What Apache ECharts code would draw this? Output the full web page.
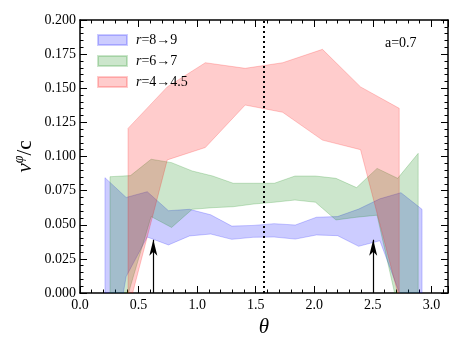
<!DOCTYPE html>
<html>
<head>
<meta charset="utf-8">
<script src="https://cdn.jsdelivr.net/npm/echarts@6/dist/echarts.min.js"></script>
<style>
html, body { margin: 0; padding: 0; background: #fff; }
#chart { width: 463px; height: 347px; }
</style>
</head>
<body>
<div id="chart"></div>
<script>
// r=8->9 band
var theta89 = [0.213, 0.394, 0.574, 0.755, 0.935, 1.116, 1.296, 1.477, 1.657, 1.838, 2.018, 2.199, 2.379, 2.560, 2.740, 2.920];
var upper89 = [0.0845, 0.070, 0.0742, 0.0603, 0.0613, 0.0573, 0.049, 0.0495, 0.0508, 0.0498, 0.0555, 0.056, 0.0615, 0.069, 0.0735, 0.0613];
var lower89 = [-0.078, 0.012, 0.041, 0.0352, 0.0418, 0.0432, 0.0393, 0.0408, 0.041, 0.0395, 0.0425, 0.042, 0.0342, 0.0383, -0.003, -0.02];

// r=6->7 band
var theta67 = [0.256, 0.431, 0.607, 0.782, 0.958, 1.133, 1.308, 1.484, 1.659, 1.835, 2.010, 2.185, 2.361, 2.536, 2.712, 2.887];
var upper67 = [0.0852, 0.086, 0.098, 0.0955, 0.0894, 0.0857, 0.0804, 0.0804, 0.0804, 0.0857, 0.0857, 0.084, 0.0772, 0.0913, 0.084, 0.1023];
var lower67 = [-0.05, 0.005, 0.056, 0.048, 0.0613, 0.0625, 0.0632, 0.0652, 0.0665, 0.0681, 0.0665, 0.0535, 0.0555, 0.057, -0.01, -0.03];

// r=4->4.5 band
var theta445 = [0.41, 0.745, 1.07, 1.41, 1.73, 2.07, 2.395, 2.725];
var upper445 = [0.1206, 0.151, 0.1687, 0.1646, 0.1687, 0.1785, 0.151, 0.1353];
var lower445 = [-0.013, 0.0975, 0.1066, 0.1377, 0.1324, 0.112, 0.105, -0.004];

// arrows and the dotted theta = pi/2 line
var arrowTheta = [0.626, 2.503];
var arrowTip = [0.039, 0.039];
var dividerTheta = Math.PI / 2;

var xTickLabels = ['0.0', '0.5', '1.0', '1.5', '2.0', '2.5', '3.0'];

var FONT = 'Liberation Serif';

var myChart = echarts.init(document.getElementById('chart'));

// 整条带子画成一个多边形
function band(theta, lower, upper, color, name) {
    return {
        name: name,
        type: 'custom',
        clip: true,
        xAxisIndex: 0,
        yAxisIndex: 0,
        itemStyle: { color: color, borderColor: color, borderWidth: 1 },
        data: theta.map(function (t, i) { return [t, lower[i], upper[i]]; }),
        encode: { x: 0, y: [1, 2] },
        renderItem: function (params, api) {
            if (params.dataIndex !== 0) return null;
            var pts = [];
            for (var i = 0; i < theta.length; i++) pts.push(api.coord([theta[i], upper[i]]));
            for (var j = theta.length - 1; j >= 0; j--) pts.push(api.coord([theta[j], lower[j]]));
            return {
                type: 'polygon',
                shape: { points: pts },
                style: { fill: color, stroke: color, lineWidth: 1 }
            };
        }
    };
}

function xAx(pos, step, len, main) {
    return {
        type: 'value', position: pos, min: 0, max: Math.PI, interval: step,
        axisLine: { show: main, onZero: false, lineStyle: { color: '#000', width: 1.5 } },
        axisTick: { show: true, inside: true, length: len, lineStyle: { color: '#000', width: 1 } },
        axisLabel: {
            show: main && pos === 'bottom', margin: 5, color: '#000', fontFamily: FONT, fontSize: 14,
            formatter: function (v) {
                var s = v.toFixed(1);
                return xTickLabels.indexOf(s) >= 0 && Math.abs(v - parseFloat(s)) < 1e-6 ? s : '';
            }
        },
        splitLine: { show: false },
        name: (main && pos === 'bottom') ? 'θ' : '',
        nameLocation: 'middle',
        nameGap: 21,
        nameTextStyle: { fontFamily: FONT, fontStyle: 'italic', fontSize: 21, color: '#000' }
    };
}

function yAx(pos, main) {
    return {
        type: 'value', position: pos, min: 0, max: 0.2, interval: 0.025,
        axisLine: { show: true, onZero: false, lineStyle: { color: '#000', width: 1.5 } },
        axisTick: { show: true, inside: true, length: 7, lineStyle: { color: '#000', width: 1 } },
        minorTick: { show: true, splitNumber: 5, length: 3.5, lineStyle: { color: '#000', width: 1 } },
        axisLabel: {
            show: main, margin: 4, color: '#000', fontFamily: FONT, fontSize: 14,
            formatter: function (v) { return v.toFixed(3); }
        },
        splitLine: { show: false },
        name: main ? '{v|v}{s|φ}{c|/c}' : '',
        nameLocation: 'middle',
        nameGap: 42,
        nameMoveOverlap: false,
        nameTextStyle: {
            color: '#000',
            rich: {
                v: { fontFamily: FONT, fontStyle: 'italic', fontSize: 21, lineHeight: 26, color: '#000' },
                s: { fontFamily: FONT, fontStyle: 'italic', fontSize: 14, lineHeight: 14, verticalAlign: 'top', color: '#000' },
                c: { fontFamily: FONT, fontSize: 21, lineHeight: 26, color: '#000' }
            }
        }
    };
}

var option = {
    animation: false,
    backgroundColor: '#fff',
    grid: { left: 80, right: 15, top: 20, bottom: 54 },
    legend: {
        orient: 'vertical',
        left: 92,
        top: 28,
        itemWidth: 29,
        itemHeight: 10,
        itemGap: 7,
        icon: 'rect',
        data: ['r=8→9', 'r=6→7', 'r=4→4.5'],
        formatter: function (name) { return '{i|r}' + name.slice(1); },
        textStyle: {
            fontFamily: FONT, fontSize: 14, color: '#000', padding: [0, 0, 0, 4],
            rich: { i: { fontFamily: FONT, fontStyle: 'italic', fontSize: 14, color: '#000' } }
        }
    },
    graphic: [{
        type: 'text', left: 385, top: 36,
        style: { text: 'a=0.7', font: '14px "Liberation Serif"', fill: '#000' }
    }],
    xAxis: [xAx('bottom', 0.5, 7, true), xAx('bottom', 0.1, 3.5, false), xAx('top', 0.5, 7, true), xAx('top', 0.1, 3.5, false)],
    yAxis: [yAx('left', true), yAx('right', false)],
    series: [
        band(theta89, lower89, upper89, 'rgba(0,0,255,0.2)', 'r=8→9'),
        band(theta67, lower67, upper67, 'rgba(0,128,0,0.2)', 'r=6→7'),
        band(theta445, lower445, upper445, 'rgba(255,0,0,0.2)', 'r=4→4.5'),
        {
            name: 'marks',
            type: 'line',
            xAxisIndex: 0,
            yAxisIndex: 0,
            data: [],
            silent: true,
            markLine: {
                silent: true,
                animation: false,
                label: { show: false },
                data: [
                    [{ coord: [dividerTheta, 0], symbol: 'none', lineStyle: { type: [2, 3], width: 2, color: '#000' } },
                     { coord: [dividerTheta, 0.2], symbol: 'none' }]
                ].concat(arrowTheta.map(function (t, i) {
                    return [{ coord: [t, 0], symbol: 'none', lineStyle: { type: 'solid', width: 1.2, color: '#000' } },
                            { coord: [t, arrowTip[i]], symbol: 'arrow', symbolSize: [6, 16] }];
                })),
                lineStyle: { color: '#000' }
            }
        }
    ]
};

myChart.setOption(option);
</script>
</body>
</html>
